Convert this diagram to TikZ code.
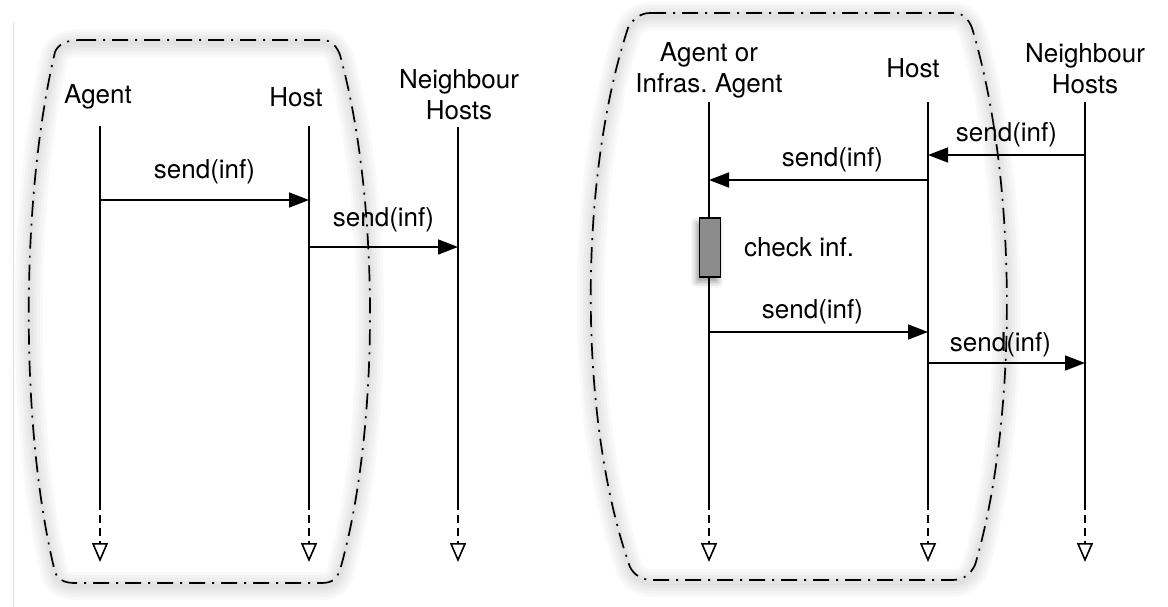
\documentclass[tikz,border=0pt]{standalone}
\usepackage{fontspec}
\setmainfont{TeX Gyre Heros}
\usetikzlibrary{arrows.meta, shadows.blur}
\tikzset{
  actor/.style={align=center, font=\fontsize{26}{31}\selectfont, inner sep=0pt},
  lifeline/.style={line width=1.6pt},
  lifeend/.style={line width=1.6pt, dash pattern=on 8pt off 5pt,
                  -{Triangle[open, length=19pt, width=16pt, line width=1.6pt]}},
  msg/.style={line width=1.6pt, -{Triangle[length=20pt, width=15pt]}},
  msglabel/.style={font=\fontsize{26}{31}\selectfont, inner sep=3pt},
  region/.style={line width=1.7pt, dash pattern=on 16pt off 7pt on 2pt off 7pt},
  halo/.style={line width=#1, black, opacity=0.022, yshift=-3pt},
  act/.style={draw, line width=1.5pt, fill=black!45, minimum width=21pt,
              minimum height=59pt, inner sep=0pt,
              blur shadow={shadow xshift=-3pt, shadow yshift=-5pt, shadow blur radius=6pt}},
}
% the two dash-dotted regions
\newcommand\leftregion{(80,40) -- (322,40) .. controls (332,40) and (337,47) .. (340,55)
  .. controls (380,200) and (380,430) .. (340,570) .. controls (337,578) and (333,583) .. (322,583)
  -- (75,583) .. controls (65,583) and (58,580) .. (55,572)
  .. controls (20,430) and (20,200) .. (55,52) .. controls (58,45) and (65,40) .. (80,40) -- cycle}
\newcommand\rightregion{(650,13) -- (955,13) .. controls (963,13) and (969,20) .. (972,28)
  .. controls (1018,180) and (1018,420) .. (975,565) .. controls (970,575) and (963,580) .. (952,580)
  -- (652,580) .. controls (642,580) and (634,575) .. (630,567)
  .. controls (578,420) and (578,180) .. (628,28) .. controls (632,20) and (640,13) .. (650,13) -- cycle}

\begin{document}
\begin{tikzpicture}[x=1pt, y=-1pt]
  \useasboundingbox (0,0) rectangle (1168,607);
  \draw[black!12, line width=1pt] (13,22) -- (13,607);

  % soft halo under the regions
  \foreach \w in {28pt,22pt,16pt,10pt,5pt} {
    \draw[halo=\w] \leftregion;
    \draw[halo=\w] \rightregion;
  }
  \draw[region] \leftregion;
  \draw[region] \rightregion;

  % participants
  \node[actor] (agentL) at (98,97) {Agent};
  \node[actor] (hostL) at (296,97) {Host};
  \node[actor] (neighL) at (459,95) {Neighbour\\Hosts};
  \node[actor] (agentR) at (709,70) {Agent or\\Infras.\ Agent};
  \node[actor] (hostR) at (913,68) {Host};
  \node[actor] (neighR) at (1085,69) {Neighbour\\Hosts};

  % lifelines
  \foreach \n/\x/\t in {aL/100/126, hL/309/126, nL/458/127, aR/709/102, hR/928/102, nR/1085/102} {
    \coordinate (\n-top) at (\x,\t);
    \coordinate (\n-end) at (\x,502);
    \coordinate (\n-tip) at (\x,562);
    \draw[lifeline] (\n-top) -- (\n-end);
    \draw[lifeend] (\n-end) -- (\n-tip);
  }

  % left: agent sends to host, host forwards
  \draw[msg] (aL-top |- 0,200) -- (hL-top |- 0,200)
    node[msglabel, midway, above=12pt] {send(inf)};
  \draw[msg] (hL-top |- 0,247) -- (nL-top |- 0,247)
    node[msglabel, midway, above=11pt] {send(inf)};

  % right: neighbours send in, agent checks and answers
  \draw[msg] (nR-top |- 0,155) -- (hR-top |- 0,155)
    node[msglabel, midway, above=4pt] {send(inf)};
  \draw[msg] (hR-top |- 0,180) -- (aR-top |- 0,180)
    node[msglabel, midway, above=4pt, xshift=14pt] {send(inf)};
  \node[act] (check) at (710,247.5) {};
  \node[msglabel] (checklbl) at (799,247) {check inf.};
  \draw[msg] (aR-top |- 0,332) -- (hR-top |- 0,332)
    node[msglabel, midway, above=4pt, xshift=-6pt] {send(inf)};
  \draw[msg] (hR-top |- 0,363) -- (nR-top |- 0,363)
    node[msglabel, midway, above=2pt, xshift=-6pt] {send(inf)};
\end{tikzpicture}
\end{document}
